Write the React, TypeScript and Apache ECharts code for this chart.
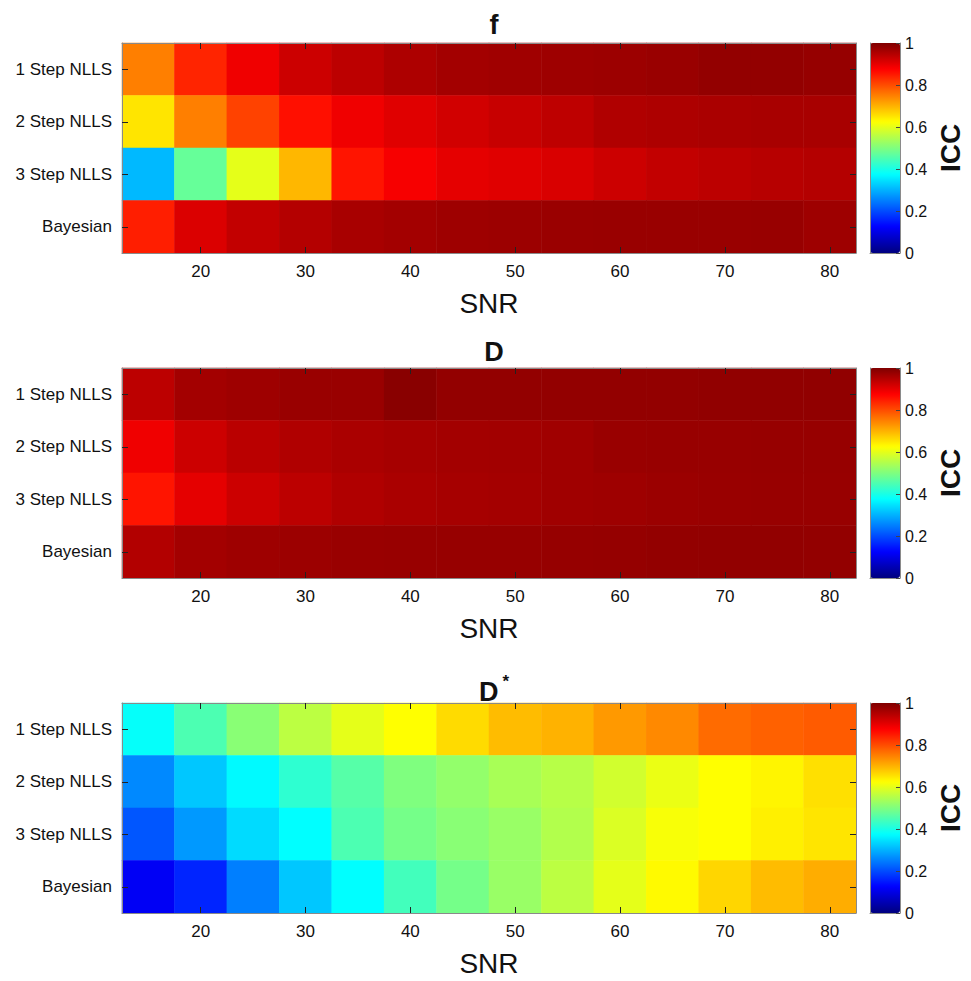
import React, { useEffect, useRef } from "react";
import * as echarts from "echarts";

const snr = [15, 20, 25, 30, 35, 40, 45, 50, 55, 60, 65, 70, 75, 80];
const methods = ["1 Step NLLS", "2 Step NLLS", "3 Step NLLS", "Bayesian"];

const fValues = [
  [0.75, 0.84, 0.89, 0.925, 0.94, 0.955, 0.965, 0.968, 0.97, 0.972, 0.975, 0.98, 0.98, 0.978],
  [0.65, 0.75, 0.81, 0.86, 0.89, 0.905, 0.92, 0.93, 0.938, 0.952, 0.955, 0.958, 0.96, 0.96],
  [0.307, 0.475, 0.6, 0.695, 0.855, 0.883, 0.9, 0.905, 0.912, 0.925, 0.935, 0.94, 0.945, 0.948],
  [0.845, 0.91, 0.935, 0.948, 0.96, 0.965, 0.97, 0.972, 0.974, 0.975, 0.975, 0.975, 0.976, 0.97],
];

const dValues = [
  [0.94, 0.965, 0.97, 0.975, 0.975, 0.99, 0.98, 0.98, 0.98, 0.98, 0.98, 0.982, 0.982, 0.982],
  [0.89, 0.925, 0.942, 0.952, 0.958, 0.962, 0.965, 0.966, 0.968, 0.975, 0.976, 0.976, 0.977, 0.977],
  [0.855, 0.9, 0.925, 0.94, 0.952, 0.958, 0.962, 0.964, 0.968, 0.97, 0.973, 0.975, 0.976, 0.976],
  [0.95, 0.965, 0.97, 0.972, 0.975, 0.976, 0.977, 0.977, 0.978, 0.979, 0.98, 0.981, 0.981, 0.98],
];

const dStarValues = [
  [0.38, 0.45, 0.51, 0.56, 0.6, 0.625, 0.66, 0.69, 0.7, 0.725, 0.74, 0.77, 0.78, 0.785],
  [0.26, 0.32, 0.37, 0.42, 0.46, 0.5, 0.52, 0.54, 0.555, 0.58, 0.605, 0.625, 0.635, 0.655],
  [0.21, 0.275, 0.34, 0.375, 0.45, 0.49, 0.51, 0.525, 0.55, 0.59, 0.618, 0.625, 0.64, 0.65],
  [0.115, 0.16, 0.25, 0.32, 0.375, 0.44, 0.49, 0.525, 0.56, 0.6, 0.63, 0.665, 0.69, 0.705],
];

const panelTitles = ["{a|f}", "{a|D}", "{a|D}{s|*}"];
const panels = [fValues, dValues, dStarValues];

const jet = ["#00007F", "#0000FF", "#007FFF", "#00FFFF", "#7FFF7F", "#FFFF00", "#FF7F00", "#FF0000", "#7F0000"];

const FONT = "'Liberation Sans', Arial, Helvetica, sans-serif";
const gridTops = [43, 368, 703];
const titleTops = [6, 333, 668];
const GRID_LEFT = 122;
const GRID_W = 734;
const GRID_H = 210;
const CB_LEFT = 870;
const CB_W = 30;

export default function App() {
  const ref = useRef<HTMLDivElement>(null);
  useEffect(() => {
    document.body.style.margin = "0";
    const chart = echarts.init(ref.current!, undefined, { renderer: "svg" });

    const grids: any[] = [];
    const xAxes: any[] = [];
    const yAxes: any[] = [];
    const series: any[] = [];
    const visualMaps: any[] = [];
    const titles: any[] = [];

    const tickEvery = (i: number) => i % 2 === 1;

    panels.forEach((vals, p) => {
      grids.push({ left: GRID_LEFT, top: gridTops[p], width: GRID_W, height: GRID_H, containLabel: false });
    });
    panels.forEach((vals, p) => {
      grids.push({ left: CB_LEFT, top: gridTops[p], width: CB_W, height: GRID_H, containLabel: false });
    });

    panels.forEach((_, p) => {
      xAxes.push({
        type: "category",
        gridIndex: p,
        position: "bottom",
        data: snr.map(String),
        z: 5,
        name: "SNR",
        nameLocation: "middle",
        nameGap: 36,
        nameTextStyle: { fontSize: 28, color: "#111", fontFamily: FONT },
        axisLine: { show: true, lineStyle: { color: "#8a8a8a", width: 1 } },
        axisTick: { show: true, inside: true, length: 6, interval: tickEvery, alignWithLabel: true, lineStyle: { color: "#222" } },
        axisLabel: { interval: tickEvery, fontSize: 17, color: "#111", margin: 10, fontFamily: FONT },
        splitLine: { show: false },
      });
    });
    panels.forEach((_, p) => {
      xAxes.push({
        type: "category",
        gridIndex: p,
        position: "top",
        data: snr.map(String),
        z: 5,
        axisLine: { show: true, lineStyle: { color: "#8a8a8a", width: 1 } },
        axisTick: { show: true, inside: true, length: 6, interval: tickEvery, alignWithLabel: true, lineStyle: { color: "#222" } },
        axisLabel: { show: false },
        splitLine: { show: false },
      });
    });
    panels.forEach((_, p) => {
      xAxes.push({
        type: "category",
        gridIndex: 3 + p,
        data: ["c"],
        z: 5,
        axisLine: { show: true, onZero: false, lineStyle: { color: "#8a8a8a", width: 1 } },
        axisTick: { show: false },
        axisLabel: { show: false },
      });
    });

    panels.forEach((_, p) => {
      yAxes.push({
        type: "category",
        gridIndex: p,
        position: "left",
        inverse: true,
        data: methods,
        z: 5,
        axisLine: { show: true, lineStyle: { color: "#8a8a8a", width: 1 } },
        axisTick: { show: true, inside: true, length: 6, alignWithLabel: true, lineStyle: { color: "#222" } },
        axisLabel: { fontSize: 17, color: "#111", margin: 10, fontFamily: FONT },
        splitLine: { show: false },
      });
    });
    panels.forEach((_, p) => {
      yAxes.push({
        type: "category",
        gridIndex: p,
        position: "right",
        inverse: true,
        data: methods,
        z: 5,
        axisLine: { show: true, lineStyle: { color: "#8a8a8a", width: 1 } },
        axisTick: { show: true, inside: true, length: 6, alignWithLabel: true, lineStyle: { color: "#222" } },
        axisLabel: { show: false },
        splitLine: { show: false },
      });
    });
    panels.forEach((_, p) => {
      yAxes.push({
        type: "value",
        gridIndex: 3 + p,
        position: "right",
        min: 0,
        max: 1,
        interval: 0.2,
        z: 5,
        name: "ICC",
        nameLocation: "middle",
        nameRotate: 90,
        nameGap: 36,
        nameTextStyle: { fontSize: 28, fontWeight: "bold", color: "#111", fontFamily: FONT },
        axisLine: { show: true, lineStyle: { color: "#8a8a8a", width: 1 } },
        axisTick: { show: true, inside: true, length: 4, lineStyle: { color: "#444" } },
        axisLabel: {
          fontSize: 16,
          color: "#111",
          margin: 5,
          fontFamily: FONT,
          formatter: (v: number) => String(Math.round(v * 10) / 10),
        },
        splitLine: { show: false },
      });
      yAxes.push({
        type: "value",
        gridIndex: 3 + p,
        position: "left",
        min: 0,
        max: 1,
        interval: 0.2,
        z: 5,
        axisLine: { show: true, lineStyle: { color: "#8a8a8a", width: 1 } },
        axisTick: { show: false },
        axisLabel: { show: false },
        splitLine: { show: false },
      });
    });

    panels.forEach((vals, p) => {
      const data: any[] = [];
      vals.forEach((row, r) => row.forEach((v, c) => data.push([c, r, v])));
      series.push({
        type: "heatmap",
        xAxisIndex: p,
        yAxisIndex: p,
        data,
        z: 1,
        emphasis: { disabled: true },
        itemStyle: { borderWidth: 0 },
      });
      visualMaps.push({
        type: "continuous",
        seriesIndex: p,
        min: 0,
        max: 1,
        calculable: false,
        realtime: false,
        left: CB_LEFT,
        top: gridTops[p],
        itemWidth: CB_W,
        itemHeight: GRID_H,
        padding: 0,
        text: null,
        showLabel: false,
        hoverLink: false,
        inRange: { color: jet },
        z: 0,
      });
      titles.push({
        text: panelTitles[p],
        left: GRID_LEFT + GRID_W / 2,
        top: titleTops[p],
        textAlign: "center",
        textStyle: {
          rich: {
            a: { fontSize: 27, fontWeight: "bold", color: "#111", fontFamily: FONT },
            s: { fontSize: 17, fontWeight: "bold", color: "#111", fontFamily: FONT, verticalAlign: "top", padding: [0, 0, 20, 4] },
          },
        },
      });
    });

    chart.setOption({
      animation: false,
      backgroundColor: "#ffffff",
      textStyle: { fontFamily: FONT },
      title: titles,
      grid: grids,
      xAxis: xAxes,
      yAxis: yAxes,
      visualMap: visualMaps,
      series,
    });
    return () => chart.dispose();
  }, []);
  return <div ref={ref} style={{ width: 971, height: 981 }} />;
}
